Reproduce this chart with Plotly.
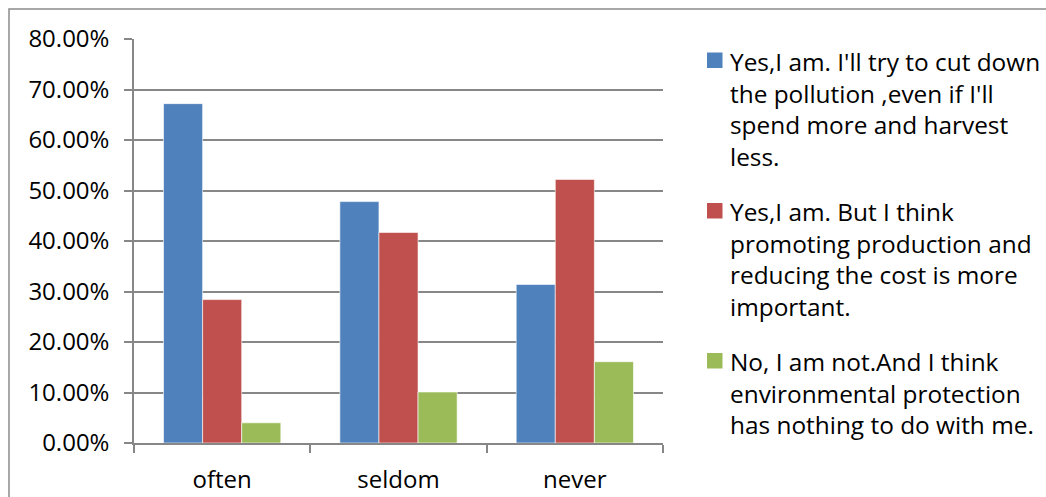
import plotly.graph_objects as go

# Survey: attitude towards pollution vs. how often the respondent worries about it
categories = ["often", "seldom", "never"]

series_names = [
    "Yes,I am. I'll try to cut down<br>the pollution ,even if I'll<br>spend more and harvest<br>less.",
    "Yes,I am. But I think<br>promoting production and<br>reducing the cost is more<br>important.",
    "No, I am not.And I think<br>environmental protection<br>has nothing to do with me.",
]

cut_pollution = [67.2, 47.8, 31.4]
production_first = [28.4, 41.7, 52.2]
not_concerned = [4.0, 10.1, 16.1]

series_values = [cut_pollution, production_first, not_concerned]
series_colors = ["#4F81BD", "#C0504D", "#9BBB59"]

y_ticks = [0, 10, 20, 30, 40, 50, 60, 70, 80]
y_tick_labels = ["0.00%", "10.00%", "20.00%", "30.00%", "40.00%",
                 "50.00%", "60.00%", "70.00%", "80.00%"]

FONT = "Open Sans"
GRID = "#878787"

fig = go.Figure()
for name, vals, col in zip(series_names, series_values, series_colors):
    fig.add_trace(
        go.Bar(
            x=categories,
            y=vals,
            name=name,
            marker=dict(color=col, line=dict(color="white", width=0.6)),
        )
    )

W, H = 1046, 497
left, right, top, bottom = 134, 663, 39, 443
pw, ph = right - left, bottom - top


def px_x(x):
    return (x - left) / pw


def px_y(y):
    return (bottom - y) / ph


shapes = [
    # chart-area outline
    dict(
        type="rect",
        xref="paper",
        yref="paper",
        x0=px_x(9),
        x1=px_x(W + 20),
        y0=px_y(H + 20),
        y1=px_y(9),
        line=dict(color="#8C8C8C", width=1.5),
        fillcolor="rgba(0,0,0,0)",
        layer="below",
    )
]
annotations = []

# legend: a colour key square and a wrapped label per series
legend_tops = [52.5, 203, 353]
for name, col, ky in zip(series_names, series_colors, legend_tops):
    shapes.append(
        dict(
            type="rect",
            xref="paper",
            yref="paper",
            x0=px_x(707),
            x1=px_x(722.5),
            y0=px_y(ky + 15.5),
            y1=px_y(ky),
            line=dict(width=0),
            fillcolor=col,
        )
    )
    annotations.append(
        dict(
            xref="paper",
            yref="paper",
            x=px_x(728),
            y=px_y(ky - 10),
            xanchor="left",
            yanchor="top",
            align="left",
            showarrow=False,
            text=name,
            font=dict(family=FONT, size=24.4, color="#000000"),
        )
    )

fig.update_layout(
    width=W,
    height=H,
    margin=dict(l=left, r=W - right, t=top, b=H - bottom, pad=0),
    paper_bgcolor="white",
    plot_bgcolor="white",
    barmode="group",
    bargap=0.335,
    bargroupgap=0,
    font=dict(family=FONT, size=24, color="#000000"),
    showlegend=False,
    xaxis=dict(
        showgrid=False,
        showline=True,
        linecolor=GRID,
        linewidth=1.5,
        ticks="outside",
        tickson="boundaries",
        ticklen=8,
        tickwidth=1.5,
        tickcolor=GRID,
        ticklabelstandoff=14,
        automargin=False,
    ),
    yaxis=dict(
        range=[0, 80],
        tickmode="array",
        tickvals=y_ticks,
        ticktext=y_tick_labels,
        showgrid=True,
        gridcolor=GRID,
        gridwidth=1.5,
        showline=True,
        linecolor=GRID,
        linewidth=1.5,
        ticks="outside",
        ticklen=8,
        tickwidth=1.5,
        tickcolor=GRID,
        zeroline=False,
        ticklabelstandoff=10,
        automargin=False,
    ),
    shapes=shapes,
    annotations=annotations,
)

fig.write_html("out.html")
